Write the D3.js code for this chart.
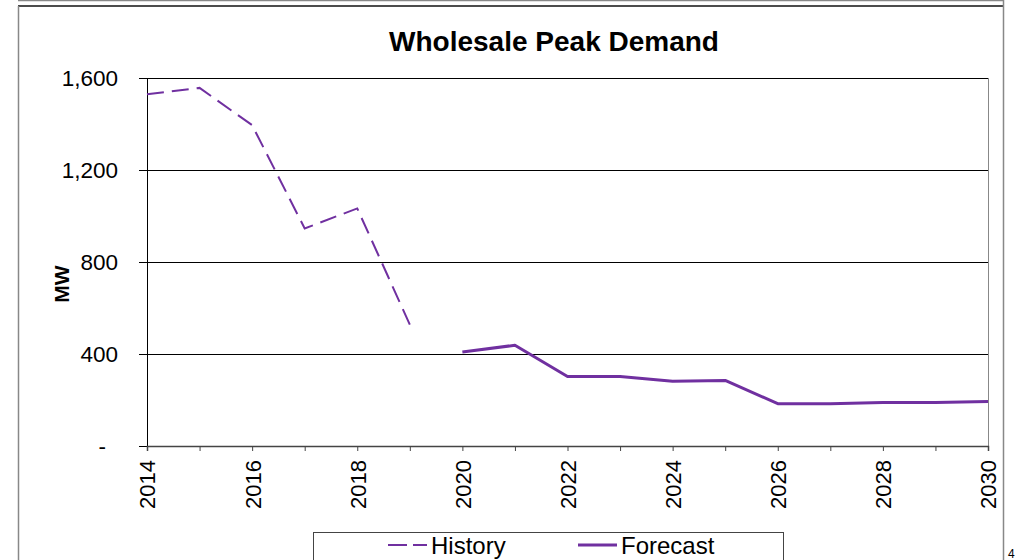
<!DOCTYPE html>
<html>
<head>
<meta charset="utf-8">
<script src="https://cdn.jsdelivr.net/npm/d3@7"></script>
<style>
  html, body { margin: 0; padding: 0; background: #fff; }
  svg { display: block; font-family: Arial, "Liberation Sans", sans-serif; }
</style>
</head>
<body>
<svg id="chart" width="1018" height="560"></svg>
<script>
// chart data
const historyYears = [2014, 2015, 2016, 2017, 2018, 2019];
const historyValues = [1529, 1557, 1395, 946, 1033, 528];
const forecastYears = [2020, 2021, 2022, 2023, 2024, 2025, 2026, 2027, 2028, 2029, 2030];
const forecastValues = [409, 438, 302, 302, 282, 285, 184, 184, 189, 189, 193];
const yTicks = [0, 400, 800, 1200, 1600];
const allYears = d3.range(2014, 2031);

const purple = "#7030a0";
const plot = { left: 147, right: 988, top: 78, bottom: 446 };

const svg = d3.select("#chart");

// outer frame bits
svg.append("line").attr("x1", 18).attr("x2", 1004).attr("y1", 0.5).attr("y2", 0.5)
  .attr("stroke", "#888").attr("stroke-width", 1.5);
svg.append("line").attr("x1", 18).attr("x2", 1004).attr("y1", 6).attr("y2", 6)
  .attr("stroke", "#111").attr("stroke-width", 1.5);
svg.append("line").attr("x1", 18.5).attr("x2", 18.5).attr("y1", 6).attr("y2", 560)
  .attr("stroke", "#888").attr("stroke-width", 1.5);
svg.append("line").attr("x1", 1003.5).attr("x2", 1003.5).attr("y1", 0).attr("y2", 560)
  .attr("stroke", "#888").attr("stroke-width", 1.5);

const x = d3.scaleLinear().domain([2014, 2030]).range([plot.left, plot.right]);
const y = d3.scaleLinear().domain([0, 1600]).range([plot.bottom, plot.top]);

// plot right border
svg.append("line").attr("x1", plot.right + 0.5).attr("x2", plot.right + 0.5)
  .attr("y1", plot.top).attr("y2", plot.bottom).attr("stroke", "#888");

// grid lines
const grid = svg.append("g")
  .attr("transform", `translate(${plot.left},0)`)
  .call(d3.axisLeft(y).tickValues(yTicks.slice(1)).tickSize(-(plot.right - plot.left)).tickFormat(""));
grid.select(".domain").remove();
grid.selectAll("line").attr("stroke", "#000").attr("stroke-width", 1);

// y axis
const yAxis = svg.append("g")
  .attr("transform", `translate(${plot.left},0)`)
  .call(d3.axisLeft(y).tickValues(yTicks).tickSize(8).tickPadding(21)
    .tickFormat(d => d === 0 ? "-" : d3.format(",")(d)));
yAxis.select(".domain").attr("stroke", "#000");
yAxis.selectAll("line").attr("stroke", "#000");
yAxis.selectAll("text")
  .attr("font-size", "22.5px")
  .attr("fill", "#000")
  .attr("font-family", "Arial, 'Liberation Sans', sans-serif")
  .filter(d => d === 0).attr("x", -41);

// x axis
const xAxis = svg.append("g")
  .attr("transform", `translate(0,${plot.bottom})`)
  .call(d3.axisBottom(x).tickValues(allYears).tickSize(5)
    .tickFormat(d => d % 2 === 0 ? d : ""));
xAxis.select(".domain").attr("stroke", "#444").attr("stroke-width", 1.5);
xAxis.selectAll("line").attr("stroke", "#444");
xAxis.selectAll("text")
  .attr("font-size", "22px")
  .attr("fill", "#000")
  .attr("font-family", "Arial, 'Liberation Sans', sans-serif")
  .attr("transform", "rotate(-90)")
  .attr("text-anchor", "end")
  .attr("x", -14)
  .attr("y", 0)
  .attr("dy", "0.36em");

// lines
const line = d3.line().x(d => x(d[0])).y(d => y(d[1]));

svg.append("path")
  .datum(d3.zip(historyYears, historyValues))
  .attr("fill", "none")
  .attr("stroke", purple)
  .attr("stroke-width", 2)
  .attr("stroke-dasharray", "17,8")
  .attr("d", line);

svg.append("path")
  .datum(d3.zip(forecastYears, forecastValues))
  .attr("fill", "none")
  .attr("stroke", purple)
  .attr("stroke-width", 3)
  .attr("stroke-linejoin", "round")
  .attr("d", line);

// title + axis label
svg.append("text")
  .attr("x", 554).attr("y", 51)
  .attr("text-anchor", "middle")
  .attr("font-size", "28px").attr("font-weight", "bold")
  .text("Wholesale Peak Demand");

svg.append("text")
  .attr("transform", "translate(69,284) rotate(-90)")
  .attr("text-anchor", "middle")
  .attr("font-size", "21px").attr("font-weight", "bold")
  .text("MW");

// legend
const legend = svg.append("g");
legend.append("rect")
  .attr("x", 313.5).attr("y", 532.5).attr("width", 470).attr("height", 40)
  .attr("fill", "#fff").attr("stroke", "#444");
const legendItems = [
  { name: "History", x: 388, dash: "19,6", width: 2 },
  { name: "Forecast", x: 578, dash: null, width: 3 }
];
legendItems.forEach(it => {
  legend.append("line")
    .attr("x1", it.x).attr("x2", it.x + 39).attr("y1", 545).attr("y2", 545)
    .attr("stroke", purple).attr("stroke-width", it.width)
    .attr("stroke-dasharray", it.dash);
  legend.append("text")
    .attr("x", it.x + 43).attr("y", 554)
    .attr("font-size", "24px")
    .text(it.name);
});

// page number peeking in at the corner
svg.append("text").attr("x", 1008).attr("y", 558)
  .attr("font-size", "12px").text("4");
</script>
</body>
</html>
